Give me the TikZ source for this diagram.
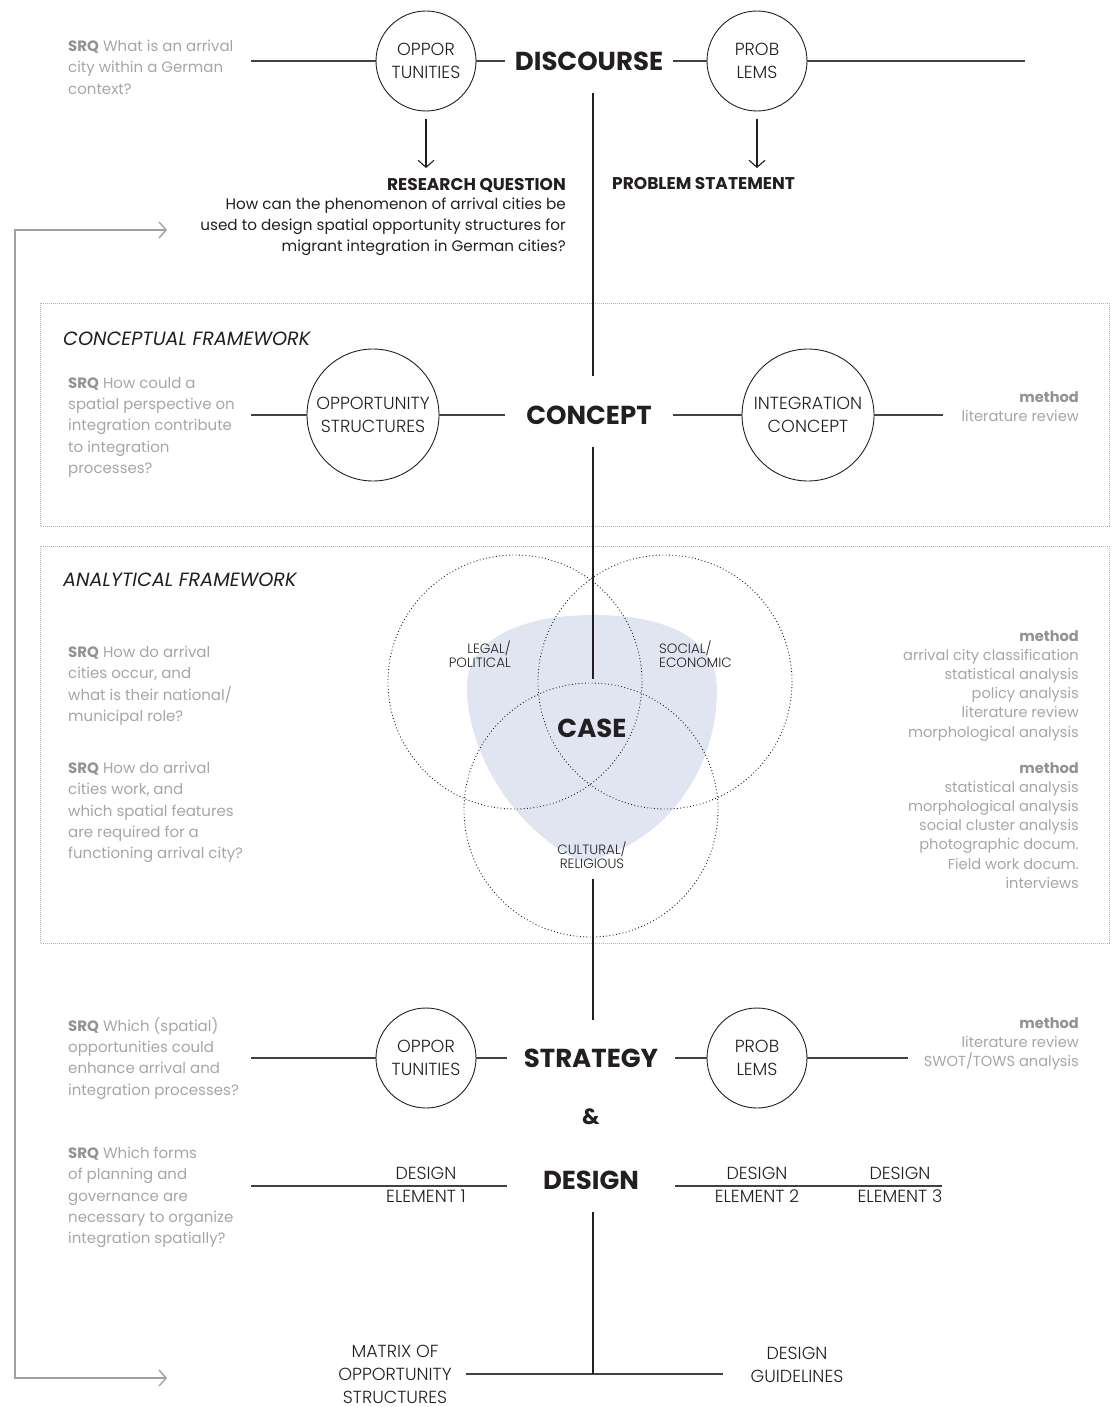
\documentclass[tikz,border=0pt]{standalone}
\usepackage{fontspec}
\setmainfont{Poppins}
\newfontfamily\thinface{Poppins Light}
\usepackage{tikz}
\usetikzlibrary{arrows.meta,positioning}

\definecolor{ink}{HTML}{231F20}
\definecolor{mute}{HTML}{A6A6A6}
\definecolor{mutedark}{HTML}{929292}
\definecolor{lens}{HTML}{E1E5F2}
\definecolor{framegrey}{HTML}{B4B4B4}
\definecolor{loopgrey}{HTML}{A0A0A0}

\newcommand{\hubfont}{\fontsize{26}{30}\selectfont\bfseries}
\newcommand{\ringfont}{\thinface\fontsize{17.5}{23}\selectfont}
\newcommand{\srqfont}{\fontsize{15}{21.3}\selectfont}
\newcommand{\methfont}{\fontsize{14.6}{19.2}\selectfont}
\newcommand{\vennfont}{\thinface\fontsize{13.5}{14}\selectfont}
\newcommand{\framefont}{\fontsize{19.2}{20}\selectfont\itshape}
\newcommand{\bodyfont}{\fontsize{15.2}{21}\selectfont}
\newcommand{\leadfont}{\fontsize{17}{20}\selectfont\bfseries}
\newcommand{\SRQ}{\textbf{\color{mutedark}SRQ}}
\newcommand{\methodhead}{\textbf{\color{mutedark}method}}

\tikzset{
	hub/.style={font=\hubfont, text=ink, inner sep=0pt, outer ysep=23pt, minimum width=168pt},
	ring/.style={circle, draw=ink, line width=0.9pt, minimum size=100pt, inner sep=0pt, align=center, font=\ringfont, text=ink},
	bigring/.style={ring, minimum size=132pt},
	srq/.style={anchor=north west, align=left, inner sep=0pt, font=\srqfont, text=mute},
	meth/.style={anchor=north east, align=right, inner sep=0pt, font=\methfont, text=mute},
	tag/.style={align=center, inner sep=0pt, font=\ringfont, text=ink},
	venntag/.style={inner sep=0pt, font=\vennfont, text=ink},
	link/.style={draw=ink!85, line width=1.3pt},
	spine/.style={draw=ink, line width=2.6pt},
	pointer/.style={draw=ink, line width=1.1pt, -{Straight Barb[length=7pt,width=16pt]}},
	fwbox/.style={draw=framegrey, line width=0.7pt, dash pattern=on 0.8pt off 1.2pt},
	vennring/.style={circle, draw=ink, line width=0.9pt, dash pattern=on 0.9pt off 2.4pt, minimum size=254pt, inner sep=0pt},
	feedback/.style={draw=loopgrey, line width=1.4pt},
}

\begin{document}
\begin{tikzpicture}[x=1pt,y=-1pt]
	\useasboundingbox (0,0) rectangle (1113,1407);

	% framework boxes
	\draw[fwbox] (40,303) rectangle (1109,526);
	\draw[fwbox] (40,546) rectangle (1109,943);
	\node[anchor=north west, inner sep=0pt, font=\framefont, text=ink] (cftitle) at (63,332) {CONCEPTUAL FRAMEWORK};
	\node[anchor=north west, inner sep=0pt, font=\framefont, text=ink] (aftitle) at (63,573) {ANALYTICAL FRAMEWORK};

	% case lens
	\fill[lens] (467,690) .. controls (465,640) and (520,615) .. (593,615)
		.. controls (670,615) and (717,640) .. (717,690)
		.. controls (717,770) and (665,845) .. (583,862)
		.. controls (520,835) and (469,760) .. (467,690) -- cycle;
	\node[vennring] (ringlegal) at (515,682) {};
	\node[vennring] (ringsocial) at (665,682) {};
	\node[vennring] (ringcultural) at (591,810) {};

	% hubs
	\node[hub] (disc) at (589,61) {DISCOURSE};
	\node[hub] (concept) at (589,415) {CONCEPT};
	\node[hub, minimum width=0pt, outer ysep=40pt] (caseh) at (592,728) {CASE};
	\node[hub] (strat) at (591,1058) {STRATEGY};
	\node[hub, minimum width=0pt, font=\fontsize{22}{26}\selectfont\bfseries] (amp) at (591,1117) {\&};
	\node[hub] (design) at (591,1180) {DESIGN};
	\coordinate (spx) at (593,0);

	% discourse row
	\node[ring] (opp1) at (426,61) {OPPOR\\TUNITIES};
	\node[ring] (prob1) at (757,61) {PROB\\LEMS};
	\coordinate (q1end) at (251,61);
	\coordinate (d1end) at (1025,61);
	\draw[link] (q1end) -- (opp1.west);
	\draw[link] (opp1.east) -- (disc.west);
	\draw[link] (disc.east) -- (prob1.west);
	\draw[link] (prob1.east) -- (d1end);
	\node[srq] (q1) at (68,40) {\SRQ{} What is an arrival\\city within a German\\context?};

	\node[anchor=north east, inner sep=0pt, font=\leadfont, text=ink] (rqtitle) at (566,178) {RESEARCH QUESTION};
	\node[below left=5pt and 0pt of rqtitle.south east, inner sep=0pt, align=right, font=\bodyfont, text=ink] (rqtext)
		{How can the phenomenon of arrival cities be\\used to design spatial opportunity structures for\\migrant integration in German cities?};
	\node[anchor=north west, inner sep=0pt, font=\leadfont, text=ink] (pstitle) at (612,177) {PROBLEM STATEMENT};
	\draw[pointer, shorten <=8pt, shorten >=10pt] (opp1.south) -- (opp1.south |- rqtitle.north);
	\draw[pointer, shorten <=8pt, shorten >=9pt] (prob1.south) -- (prob1.south |- pstitle.north);

	% concept row
	\node[bigring] (oppstruct) at (373,415) {OPPORTUNITY\\STRUCTURES};
	\node[bigring] (integ) at (808,415) {INTEGRATION\\CONCEPT};
	\coordinate (q2end) at (251,415);
	\coordinate (m2end) at (943,415);
	\draw[link] (q2end) -- (oppstruct.west);
	\draw[link] (oppstruct.east) -- (concept.west);
	\draw[link] (concept.east) -- (integ.west);
	\draw[link] (integ.east) -- (m2end);
	\node[srq] (q2) at (68,377) {\SRQ{} How could a\\spatial perspective on\\integration contribute\\to integration\\processes?};
	\node[meth] (m2) at (1079,391) {\methodhead\\literature review};

	% analytical framework
	\node[venntag, anchor=north east, align=right] (tlegal) at (511,641) {LEGAL/\\POLITICAL};
	\node[venntag, anchor=north west, align=left] (tsocial) at (659,641) {SOCIAL/\\ECONOMIC};
	\node[venntag, align=center] (tcultural) at (592,855) {CULTURAL/\\RELIGIOUS};
	\node[srq] (q3) at (68,646) {\SRQ{} How do arrival\\cities occur, and\\what is their national/\\municipal role?};
	\node[srq] (q4) at (68,762) {\SRQ{} How do arrival\\cities work, and\\which spatial features\\are required for a\\functioning arrival city?};
	\node[meth] (m3) at (1079,630) {\methodhead\\arrival city classification\\statistical analysis\\policy analysis\\literature review\\morphological analysis};
	\node[meth] (m4) at (1079,762) {\methodhead\\statistical analysis\\morphological analysis\\social cluster analysis\\photographic docum.\\Field work docum.\\interviews};

	% strategy row
	\node[ring] (opp2) at (426,1058) {OPPOR\\TUNITIES};
	\node[ring] (prob2) at (757,1058) {PROB\\LEMS};
	\coordinate (q5end) at (251,1058);
	\coordinate (m5end) at (908,1058);
	\draw[link] (q5end) -- (opp2.west);
	\draw[link] (opp2.east) -- (strat.west);
	\draw[link] (strat.east) -- (prob2.west);
	\draw[link] (prob2.east) -- (m5end);
	\node[srq] (q5) at (68,1017) {\SRQ{} Which (spatial)\\opportunities could\\enhance arrival and\\integration processes?};
	\node[meth] (m5) at (1079,1017) {\methodhead\\literature review\\SWOT/TOWS analysis};

	% design row
	\coordinate (q6end) at (251,1186);
	\coordinate (de3end) at (942,1186);
	\draw[link] (q6end) -- (q6end -| design.west);
	\draw[link] (de3end -| design.east) -- (de3end);
	\node[tag] (de1) at (426,1185) {DESIGN\\ELEMENT 1};
	\node[tag] (de2) at (757,1185) {DESIGN\\ELEMENT 2};
	\node[tag] (de3) at (900,1185) {DESIGN\\ELEMENT 3};
	\node[srq] (q6) at (68,1147) {\SRQ{} Which forms\\of planning and\\governance are\\necessary to organize\\integration spatially?};

	% outcomes
	\node[tag, inner sep=14pt] (matrix) at (395,1374) {MATRIX OF\\OPPORTUNITY\\STRUCTURES};
	\node[tag, inner sep=6pt] (guide) at (797,1365) {DESIGN\\GUIDELINES};
	\draw[link, shorten >=22pt] (matrix.east) -- (matrix.east -| guide.west);

	% spine
	\draw[spine, shorten >=7pt] (spx |- disc.south) -- (spx |- concept.north);
	\draw[spine] (spx |- concept.south) -- (spx |- caseh.north);
	\draw[spine, shorten <=10pt, shorten >=6pt] (spx |- tcultural.south) -- (spx |- strat.north);
	\draw[spine] (spx |- design.south) -- (spx |- matrix.east);

	% feedback loop
	\coordinate (rqin) at (167,230);
	\coordinate (outin) at (167,1378);
	\coordinate (loopx) at (15,800);
	\draw[feedback, {Straight Barb[length=7pt,width=16pt]}-{Straight Barb[length=7pt,width=16pt]}] (rqin) -| (loopx) |- (outin);
\end{tikzpicture}
\end{document}
